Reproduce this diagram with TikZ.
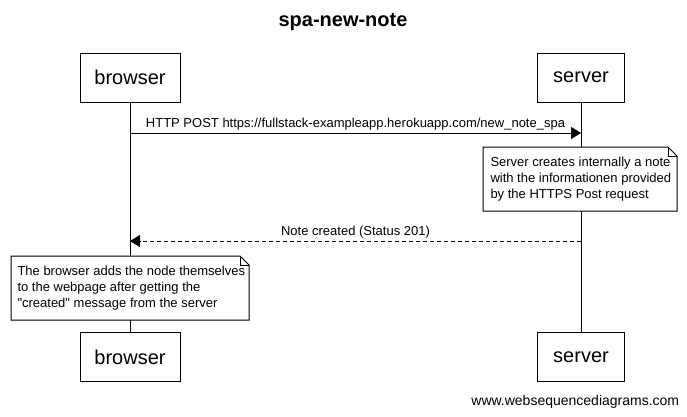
\documentclass[tikz,border=0pt]{standalone}
\usepackage{fontspec}
\setmainfont{Liberation Sans}
\usetikzlibrary{arrows.meta,calc}

\begin{document}
\begin{tikzpicture}[x=1pt, y=-1pt, line width=1pt,
  actor/.style={draw, fill=white, minimum width=100pt, minimum height=49pt, inner sep=0pt, font=\fontsize{20}{24}\selectfont},
  msg/.style={-{Triangle[length=10pt,width=12pt]}},
  reply/.style={msg, dash pattern=on 4pt off 3pt},
  msglabel/.style={above, inner sep=2pt, font=\fontsize{13}{16}\selectfont},
  notetext/.style={align=left, inner sep=0pt, font=\fontsize{13}{16}\selectfont}]
\useasboundingbox (0,0) rectangle (687,416);

% title
\node[font=\fontsize{20}{24}\selectfont\bfseries] (title) at (343,22) {spa-new-note};

% participants
\node[actor] (browser) at (130,77.5) {browser};
\node[actor, minimum width=87pt] (server) at (581,77.5) {server};
\node[actor] (browserend) at (130,357) {browser};
\node[actor, minimum width=87pt] (serverend) at (581,357) {server};

% lifelines
\draw (browser) -- (browserend);
\draw (server) -- (serverend);

% messages
\coordinate (post) at (0,133);
\coordinate (created) at (0,241);
\draw[msg] (browser |- post) -- node[msglabel] (postlabel) {HTTP POST https://fullstack-exampleapp.herokuapp.com/new\_note\_spa} (server |- post);
\draw[reply] (server |- created) -- node[msglabel] (createdlabel) {Note created (Status 201)} (browser |- created);

% note on server
\filldraw[fill=white] (483,147) -- (668,147) -- (677,156) -- (677,211) -- (483,211) -- cycle;
\draw (668,147) -- (668,156) -- (677,156);
\node[notetext, anchor=west] (servernote) at (490,179) {Server creates internally a note\\with the informationen provided\\by the HTTPS Post request};

% note on browser
\filldraw[fill=white] (11,256) -- (240,256) -- (249,265) -- (249,320) -- (11,320) -- cycle;
\draw (240,256) -- (240,265) -- (249,265);
\node[notetext, anchor=west] (browsernote) at (17,288) {The browser adds the node themselves\\to the webpage after getting the\\\textquotedbl created\textquotedbl{} message from the server};

% watermark
\node[font=\fontsize{14}{17}\selectfont, anchor=east] (mark) at (683,402) {www.websequencediagrams.com};
\end{tikzpicture}
\end{document}
